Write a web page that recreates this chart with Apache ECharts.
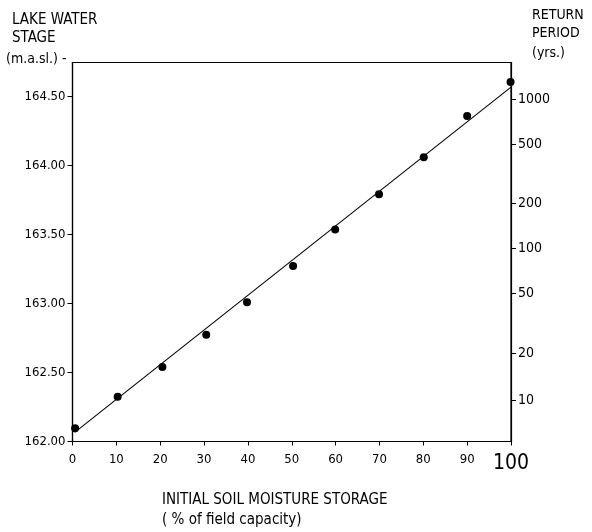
<!DOCTYPE html>
<html>
<head>
<meta charset="utf-8">
<script src="https://cdn.jsdelivr.net/npm/echarts@6/dist/echarts.min.js"></script>
<style>
html,body{margin:0;padding:0;background:#fff;}
#chart{width:592px;height:532px;}
</style>
</head>
<body>
<div id="chart"></div>
<script>
// ---- data ----
const moisture = [0.6, 10.3, 20.5, 30.5, 39.8, 50.3, 59.9, 69.9, 80.1, 90.0, 99.9];
const stage = [162.096, 162.324, 162.539, 162.773, 163.009, 163.272, 163.535, 163.791, 164.059, 164.357, 164.603];
const fitX = [0.5, 100];
const fitStage = [162.066, 164.567];
const stageTicks = [162.0, 162.5, 163.0, 163.5, 164.0, 164.5];
const xTicks = [0, 10, 20, 30, 40, 50, 60, 70, 80, 90, 100];
const returnPeriodTicks = [10, 20, 50, 100, 200, 500, 1000];

// Gumbel reduced variate for return-period axis
function gumbel(T) { return -Math.log(-Math.log(1 - 1 / T)); }
const rpPositions = returnPeriodTicks.map(gumbel);

const FONT = '"DejaVu Sans Condensed", "DejaVu Sans", sans-serif';
const chart = echarts.init(document.getElementById('chart'), null, {renderer: 'canvas'});

const option = {
  animation: false,
  backgroundColor: '#fff',
  grid: {
    left: 72.5, right: 81, top: 62.5, bottom: 90.5,
    show: true, borderColor: '#000', borderWidth: 1.2, backgroundColor: 'transparent'
  },
  xAxis: {
    type: 'value', min: 0, max: 100, interval: 10,
    axisLine: {show: true, lineStyle: {color: '#000', width: 1.2}},
    axisTick: {show: true, length: 4, lineStyle: {color: '#000'}},
    splitLine: {show: false},
    axisLabel: {
      color: '#000', fontFamily: FONT, fontSize: 13, margin: 12,
      formatter: function (v) { return v === 100 ? '{big|100}' : String(v); },
      rich: {big: {fontSize: 21, fontFamily: FONT, color: '#000'}}
    }
  },
  yAxis: [
    {
      type: 'value', min: 162, max: 164.745, position: 'left',
      axisLine: {show: true, lineStyle: {color: '#000', width: 1.2}},
      axisTick: {show: true, length: 5, customValues: stageTicks, lineStyle: {color: '#000'}},
      splitLine: {show: false},
      axisLabel: {
        color: '#000', fontFamily: FONT, fontSize: 13, margin: 7,
        customValues: stageTicks,
        formatter: function (v) { return v.toFixed(2); }
      }
    },
    {
      type: 'value', min: 1.607, max: 7.477, position: 'right',
      axisLine: {show: true, lineStyle: {color: '#000', width: 1.2}},
      axisTick: {show: true, length: 5, customValues: rpPositions, lineStyle: {color: '#000'}},
      splitLine: {show: false},
      axisLabel: {
        color: '#000', fontFamily: FONT, fontSize: 14, margin: 7,
        customValues: rpPositions,
        formatter: function (v) {
          let best = 0, bd = Infinity;
          rpPositions.forEach(function (p, i) { const d = Math.abs(p - v); if (d < bd) { bd = d; best = i; } });
          return String(returnPeriodTicks[best]);
        }
      }
    }
  ],
  series: [
    {
      type: 'line', yAxisIndex: 0,
      data: fitX.map(function (x, i) { return [x, fitStage[i]]; }),
      showSymbol: false, symbol: 'none',
      lineStyle: {color: '#000', width: 1.1}
    },
    {
      type: 'scatter', yAxisIndex: 0,
      data: moisture.map(function (x, i) { return [x, stage[i]]; }),
      symbol: 'circle', symbolSize: 8,
      itemStyle: {color: '#000', opacity: 1}
    }
  ],
  graphic: [
    {type: 'text', left: 12, top: 13, style: {text: 'LAKE WATER', font: '15px ' + FONT, fill: '#000'}},
    {type: 'text', left: 12, top: 31, style: {text: 'STAGE', font: '15px ' + FONT, fill: '#000'}},
    {type: 'text', left: 6, top: 52, style: {text: '(m.a.sl.) -', font: '14px ' + FONT, fill: '#000'}},
    {type: 'text', left: 532, top: 8, style: {text: 'RETURN', font: '14px ' + FONT, fill: '#000'}},
    {type: 'text', left: 532, top: 26, style: {text: 'PERIOD', font: '14px ' + FONT, fill: '#000'}},
    {type: 'text', left: 532, top: 46, style: {text: '(yrs.)', font: '14px ' + FONT, fill: '#000'}},
    {type: 'text', left: 162, top: 493, style: {text: 'INITIAL SOIL MOISTURE STORAGE', font: '15px ' + FONT, fill: '#000'}},
    {type: 'text', left: 162, top: 513, style: {text: '( % of field capacity)', font: '15px ' + FONT, fill: '#000'}}
  ]
};
chart.setOption(option);
</script>
</body>
</html>
